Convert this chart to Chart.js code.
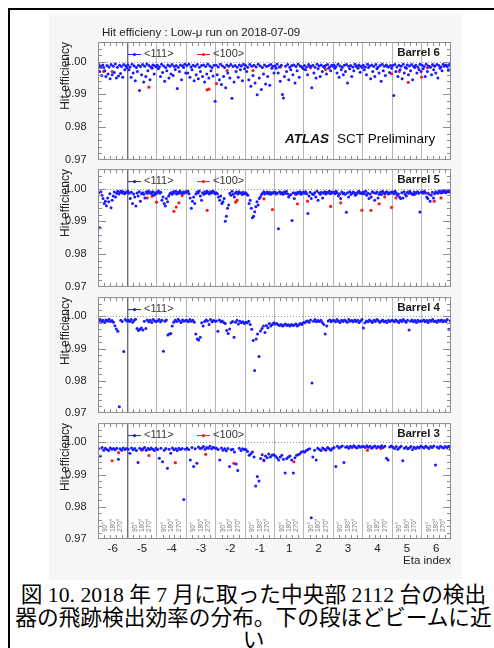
<!DOCTYPE html>
<html lang="ja">
<head>
<meta charset="UTF-8" />
<title>SCT barrel hit efficiency</title>
<script src="https://cdn.jsdelivr.net/npm/chart.js"></script>
<style>
  body { margin: 0; width: 494px; height: 648px; overflow: hidden; position: relative; background: #fff; }
  #frame { position: absolute; left: 8px; top: 8px; width: 520px; height: 700px; border: 2px solid #000; box-sizing: border-box; }
  #figbg { position: absolute; left: 49px; top: 14px; width: 413px; height: 566px; background: #f7f7f7; }
  canvas.panel { position: absolute; left: 45px; }
  #caption { position: absolute; left: 10px; width: 487px; top: 584px; font-family: "Liberation Serif", "Noto Sans CJK JP", serif;
             font-size: 21.7px; line-height: 22.5px; text-align: center; color: #000; white-space: nowrap; }
</style>
</head>
<body>
<div id="frame"></div>
<div id="figbg"></div>
<canvas id="p6" class="panel"></canvas>
<canvas id="p5" class="panel"></canvas>
<canvas id="p4" class="panel"></canvas>
<canvas id="p3" class="panel"></canvas>
<div id="caption">図 10. 2018 年 7 月に取った中央部 2112 台の検出<br>器の飛跡検出効率の分布。下の段ほどビームに近<br>い</div>

<script>
// eta rings, left to right
const etaLabels = ['-6', '-5', '-4', '-3', '-2', '-1', '1', '2', '3', '4', '5', '6'];
const phiLabels = ['90°', '180°', '270°'];
const yMajor = [0.97, 0.98, 0.99, 1.00];

// inefficiency (1 - eff) in units of 1e-4, <111> modules, one array per eta ring, phi order
const barrel6 = [
  [8, 30, 14, 42, 10, 18, 28, 45, 12, 38, 16, 52, 9, 40, 14, 33, 7, 50, 17, 44, 11, 36, 15, 48, 9, 25, 13, 19],
  [10, 25, 16, 48, 8, 35, 13, 58, 18, 30, 11, 88, 15, 40, 9, 62, 14, 45, 7, 28, 12, 55, 17, 20, 10, 38, 13, 16],
  [11, 22, 16, 45, 8, 33, 13, 60, 18, 28, 10, 50, 14, 38, 9, 42, 15, 24, 12, 82, 17, 30, 10, 55, 13, 18, 8, 35],
  [12, 35, 8, 48, 16, 25, 11, 58, 14, 40, 9, 52, 17, 30, 12, 45, 10, 62, 15, 38, 8, 50, 13, 28, 18, 44, 11, 121],
  [11, 40, 16, 55, 8, 70, 13, 45, 18, 80, 10, 35, 14, 50, 9, 112, 15, 62, 12, 30, 17, 48, 10, 25, 13, 58, 8, 22],
  [12, 30, 17, 55, 9, 75, 14, 42, 11, 65, 16, 101, 8, 50, 13, 85, 18, 38, 10, 68, 15, 45, 12, 72, 9, 20, 14, 35],
  [13, 20, 8, 35, 16, 60, 11, 100, 111, 45, 14, 30, 9, 55, 17, 25, 12, 40, 10, 65, 15, 28, 8, 48, 13, 15, 18, 22],
  [12, 25, 16, 40, 9, 15, 14, 80, 11, 35, 17, 50, 8, 22, 13, 45, 10, 30, 15, 18, 12, 38, 9, 20, 16, 28, 11, 14],
  [10, 20, 15, 35, 8, 48, 13, 25, 17, 40, 11, 30, 9, 65, 14, 22, 12, 45, 16, 28, 8, 15, 13, 20, 10, 32, 15, 18],
  [11, 25, 16, 40, 8, 18, 13, 52, 10, 30, 15, 45, 9, 22, 17, 35, 12, 60, 8, 28, 14, 42, 10, 15, 16, 33, 12, 20],
  [12, 103, 9, 30, 16, 45, 11, 25, 14, 52, 8, 35, 17, 20, 10, 40, 13, 28, 9, 55, 15, 18, 11, 35, 16, 24, 8, 30],
  [11, 22, 15, 45, 8, 30, 13, 15, 17, 40, 10, 25, 14, 35, 9, 50, 12, 20, 16, 28, 8, 14, 11, 10, 15, 26, 9, 12]
];
const barrel5 = [
  [12, 119, 9, 20, 30, 45, 38, 52, 28, 40, 15, 58, 35, 22, 10, 25, 14, 8, 16, 11, 7, 13, 9, 15, 12, 10],
  [8, 14, 30, 11, 45, 16, 25, 53, 13, 22, 9, 38, 15, 12, 17, 28, 10, 14, 7, 13, 11, 16, 9, 20, 12, 15],
  [10, 7, 14, 11, 35, 25, 45, 53, 30, 40, 22, 15, 12, 17, 9, 13, 8, 16, 11, 14, 7, 12, 15, 10, 13, 9],
  [11, 8, 15, 28, 60, 38, 25, 45, 16, 10, 13, 7, 22, 35, 12, 17, 9, 14, 8, 12, 16, 10, 13, 7, 11, 15],
  [12, 15, 25, 35, 22, 45, 40, 30, 99, 84, 60, 50, 14, 20, 8, 17, 25, 13, 10, 16, 9, 14, 12, 18, 11, 15],
  [12, 16, 20, 45, 35, 60, 89, 84, 70, 55, 40, 50, 30, 25, 18, 14, 9, 16, 13, 10, 15, 11, 17, 12, 14, 10],
  [11, 16, 13, 122, 9, 15, 12, 17, 10, 14, 8, 15, 25, 20, 18, 97, 12, 30, 13, 16, 11, 14, 9, 17, 12, 10],
  [14, 9, 15, 76, 22, 11, 30, 16, 18, 12, 25, 8, 35, 13, 17, 11, 28, 14, 9, 16, 11, 13, 8, 15, 10, 12],
  [11, 15, 8, 13, 22, 16, 30, 10, 15, 13, 17, 72, 12, 25, 9, 18, 14, 10, 13, 20, 16, 11, 8, 14, 12, 15],
  [10, 15, 8, 20, 13, 30, 16, 25, 9, 12, 35, 14, 10, 28, 17, 11, 18, 8, 13, 15, 11, 9, 16, 12, 14, 10],
  [11, 15, 8, 13, 20, 16, 25, 30, 12, 28, 9, 17, 22, 11, 14, 8, 13, 16, 18, 10, 15, 12, 9, 14, 71, 11],
  [10, 14, 8, 13, 25, 30, 16, 38, 20, 11, 28, 15, 9, 12, 14, 7, 10, 13, 6, 11, 8, 12, 9, 7, 10, 8]
];
const barrel4 = [
  [14, 10, 17, 12, 19, 11, 15, 9, 16, 13, 18, 29, 39, 46, 281, 12, 16, 109, 10, 14],
  [12, 16, 10, 18, 13, 9, 38, 44, 40, 36, 42, 15, 38, 11, 17, 12, 19, 10, 14, 16],
  [14, 10, 17, 12, 108, 15, 11, 58, 55, 53, 30, 18, 12, 16, 9, 14, 19, 11, 15, 13],
  [13, 17, 10, 15, 12, 18, 55, 70, 73, 65, 20, 30, 16, 11, 14, 25, 10, 17, 13, 15],
  [14, 46, 11, 17, 14, 19, 22, 44, 53, 39, 20, 16, 65, 18, 12, 24, 15, 20, 17, 22],
  [18, 20, 15, 25, 40, 75, 168, 70, 55, 125, 45, 38, 30, 50, 28, 35, 22, 30, 25, 20],
  [24, 22, 26, 28, 25, 30, 27, 24, 28, 26, 30, 25, 28, 27, 24, 30, 26, 22, 25, 20],
  [20, 16, 14, 18, 11, 207, 15, 10, 17, 13, 16, 12, 19, 25, 55, 30, 14, 11, 17, 13],
  [13, 17, 10, 15, 19, 12, 16, 11, 14, 18, 10, 15, 13, 17, 11, 16, 12, 19, 14, 10],
  [36, 20, 14, 17, 11, 15, 19, 12, 16, 10, 13, 18, 15, 11, 17, 14, 19, 12, 16, 13],
  [13, 17, 11, 15, 19, 12, 16, 10, 14, 18, 12, 42, 15, 11, 17, 13, 19, 12, 16, 14],
  [14, 11, 17, 13, 19, 12, 15, 10, 16, 14, 18, 12, 15, 11, 17, 13, 16, 10, 40, 14]
];
const barrel3 = [
  [20, 42, 16, 24, 18, 22, 25, 17, 21, 19, 23, 18, 52, 20, 24, 17, 22, 19],
  [21, 34, 17, 23, 19, 25, 62, 18, 22, 20, 16, 24, 19, 22, 17, 21, 25, 18],
  [22, 49, 18, 60, 24, 19, 80, 21, 34, 17, 23, 20, 25, 18, 22, 19, 177, 21],
  [18, 22, 55, 16, 75, 20, 65, 14, 19, 17, 13, 21, 16, 18, 12, 20, 15, 17],
  [18, 22, 55, 17, 24, 20, 26, 19, 75, 23, 21, 30, 67, 87, 18, 25, 20, 22],
  [22, 28, 40, 35, 30, 45, 135, 106, 120, 50, 38, 55, 42, 48, 36, 45, 40, 38],
  [42, 48, 55, 45, 40, 52, 95, 50, 45, 42, 55, 95, 48, 40, 38, 35, 30, 28],
  [30, 25, 22, 20, 234, 45, 24, 55, 18, 22, 25, 17, 21, 23, 16, 20, 24, 19],
  [16, 75, 12, 17, 14, 11, 62, 15, 13, 18, 12, 16, 10, 14, 17, 11, 15, 13],
  [13, 16, 10, 15, 12, 18, 14, 11, 17, 13, 15, 10, 16, 12, 49, 55, 14, 11],
  [15, 19, 13, 21, 16, 12, 57, 18, 14, 20, 17, 13, 22, 15, 19, 14, 17, 12],
  [14, 17, 12, 15, 19, 13, 16, 11, 70, 14, 18, 12, 15, 17, 13, 16, 12, 15]
];

// <100> modules: [eta position (0 = left edge, 12 = right edge), inefficiency x 1e4]
const barrel6Red = [[0.08, 17], [0.19, 30], [0.48, 30], [1.73, 78], [1.87, 11], [3.71, 86], [3.77, 84],
  [4.03, 67], [4.39, 27], [5.27, 27], [6.21, 16], [7.23, 19], [7.74, 24], [8.88, 14], [9.98, 37],
  [10.24, 30], [10.55, 63], [11.0, 47], [11.2, 19], [11.38, 9]];
const barrel5Red = [[1.67, 28], [1.84, 23], [1.99, 41], [2.58, 69], [2.66, 56], [2.75, 43], [2.86, 21],
  [3.71, 66], [3.83, 10], [4.68, 41], [4.73, 35], [5.64, 31], [5.93, 64], [6.72, 18], [6.78, 46],
  [7.12, 38], [7.69, 11], [7.91, 54], [8.25, 43], [8.73, 13], [8.97, 66], [9.28, 66], [9.56, 46],
  [9.75, 25], [9.98, 57], [10.13, 28], [10.75, 18], [11.21, 13], [11.43, 38], [11.66, 28]];
const barrel3Red = [[0.48, 57], [0.70, 32], [1.50, 24], [1.73, 41], [2.63, 63], [3.66, 37], [4.62, 65],
  [5.64, 57], [6.66, 60], [7.74, 24], [9.16, 24], [9.62, 19], [11.98, 22]];

const BLUE = '#1a1aff';
const RED = '#ff1a1a';
const FONT = '"Liberation Sans", Arial, sans-serif';

function ringPoints(rings) {
  const pts = [];
  rings.forEach((vals, s) => vals.forEach((v, j) => pts.push({ x: s + (j + 0.5) / vals.length, y: 1 - v / 1e4 })));
  return pts;
}

const decor = {
  id: 'decor',
  beforeDraw(chart) {
    const { ctx, chartArea: a } = chart;
    ctx.save();
    ctx.fillStyle = '#fff';
    ctx.fillRect(a.left, a.top, a.width, a.height);
    ctx.restore();
  },
  beforeDatasetsDraw(chart) {
    const { ctx, chartArea: a, scales: { y } } = chart;
    const py = Math.round(y.getPixelForValue(1.0)) + 0.5;
    ctx.save();
    ctx.strokeStyle = '#999';
    ctx.setLineDash([1, 2]);
    ctx.beginPath(); ctx.moveTo(a.left, py); ctx.lineTo(a.right, py); ctx.stroke();
    ctx.restore();
  },
  afterDraw(chart, args, o) {
    const { ctx, chartArea: a, scales: { x, y } } = chart;
    ctx.save();
    ctx.strokeStyle = '#8c8c8c';
    ctx.lineWidth = 1;
    ctx.strokeRect(a.left + 0.5, a.top + 0.5, a.width - 1, a.height - 1);
    ctx.beginPath();
    // small ticks inside the frame
    for (let s = 0; s < 12; s++) {
      for (let k = 1; k < 5; k++) {
        const px = Math.round(x.getPixelForValue(s + k / 5)) + 0.5;
        ctx.moveTo(px, a.top); ctx.lineTo(px, a.top + 4);
        ctx.moveTo(px, a.bottom); ctx.lineTo(px, a.bottom - 4);
      }
    }
    for (let i = 1; i < 18; i++) {
      const py = Math.round(y.getPixelForValue(0.97 + i * 0.002)) + 0.5;
      const len = i % 5 === 0 ? 8 : 4;
      ctx.moveTo(a.left, py); ctx.lineTo(a.left + len, py);
      ctx.moveTo(a.right, py); ctx.lineTo(a.right - len, py);
    }
    ctx.stroke();

    // legend
    ctx.font = '11px ' + FONT;
    ctx.textBaseline = 'middle';
    const ly = a.top + 12;
    o.legend.forEach(([label, color, dx]) => {
      const lx = a.left + dx;
      ctx.strokeStyle = color;
      ctx.beginPath(); ctx.moveTo(lx, ly + 0.5); ctx.lineTo(lx + 13, ly + 0.5); ctx.stroke();
      ctx.fillStyle = color;
      ctx.beginPath(); ctx.arc(lx + 6.5, ly + 0.5, 1.6, 0, Math.PI * 2); ctx.fill();
      ctx.fillStyle = '#333';
      ctx.fillText(label, lx + 16, ly);
    });

    ctx.fillStyle = '#1a1a1a';
    ctx.font = 'bold 11.5px ' + FONT;
    ctx.textAlign = 'right';
    ctx.fillText(o.barrel, a.right - 11, a.top + 11);
    ctx.textAlign = 'left';

    if (o.title) {
      ctx.font = '11.5px ' + FONT;
      ctx.fillStyle = '#222';
      ctx.fillText(o.title, a.left + 4, a.top - 9);
      ctx.textBaseline = 'alphabetic';
      ctx.font = 'italic bold 13.5px ' + FONT;
      ctx.fillStyle = '#111';
      ctx.fillText('ATLAS', a.left + 187, a.top + 101);
      ctx.font = '13.5px ' + FONT;
      ctx.fillText('SCT Preliminary', a.left + 239, a.top + 101);
    }

    if (o.phi) {
      ctx.fillStyle = '#777';
      ctx.font = '6.5px ' + FONT;
      ctx.textBaseline = 'middle';
      ctx.textAlign = 'left';
      for (let s = 0; s < 12; s++) {
        phiLabels.forEach((t, k) => {
          ctx.save();
          ctx.translate(x.getPixelForValue(s + (k + 1) / 4), a.bottom - 7);
          ctx.rotate(-Math.PI / 2);
          ctx.fillText(t, 0, 0);
          ctx.restore();
        });
      }
    }
    ctx.restore();
  }
};

const panels = [
  { id: 'p6', top: 42, h: 118, rings: barrel6, red: barrel6Red, barrel: 'Barrel 6',
    title: 'Hit efficieny : Low-\u03bc run on 2018-07-09' },
  { id: 'p5', top: 169, h: 118, rings: barrel5, red: barrel5Red, barrel: 'Barrel 5' },
  { id: 'p4', top: 297, h: 116, rings: barrel4, red: null, barrel: 'Barrel 4' },
  { id: 'p3', top: 423, h: 116, rings: barrel3, red: barrel3Red, barrel: 'Barrel 3', bottom: true }
];

panels.forEach(p => {
  const padTop = p.title ? 24 : 10;
  const axisH = p.bottom ? 30 : 0;
  const padBottom = p.bottom ? 0 : 10;
  const cv = document.getElementById(p.id);
  cv.width = 420;
  cv.height = padTop + p.h + axisH + padBottom;
  cv.style.top = (p.top - padTop) + 'px';

  const datasets = [{
    label: '<111>', data: ringPoints(p.rings), backgroundColor: BLUE, borderWidth: 0,
    pointRadius: 1.5, pointHoverRadius: 1.5
  }];
  const legend = [['<111>', BLUE, 30]];
  if (p.red) {
    datasets.push({
      label: '<100>', data: p.red.map(([x, v]) => ({ x, y: 1 - v / 1e4 })), backgroundColor: RED,
      borderWidth: 0, pointRadius: 1.6, pointHoverRadius: 1.6
    });
    legend.push(['<100>', RED, 99]);
  }

  new Chart(cv.getContext('2d'), {
    type: 'scatter',
    data: { datasets },
    options: {
      responsive: false,
      animation: false,
      events: [],
      layout: { padding: { top: padTop, right: 14, bottom: padBottom, left: 0 } },
      plugins: {
        legend: { display: false },
        tooltip: { enabled: false },
        decor: { legend, barrel: p.barrel, title: p.title, phi: !!p.bottom }
      },
      scales: {
        x: {
          type: 'linear', min: 0, max: 12,
          afterBuildTicks: s => {
            const t = [];
            for (let i = 0; i <= 12; i++) {
              t.push({ value: i });
              if (i < 12) t.push({ value: i + 0.5 });
            }
            s.ticks = t;
          },
          afterFit: s => { s.height = axisH; },
          ticks: {
            display: !!p.bottom, autoSkip: false, maxRotation: 0, padding: 3,
            color: '#222', font: { family: FONT, size: 11.5 },
            callback: v => (v % 1 === 0.5 ? etaLabels[Math.floor(v)] : '')
          },
          grid: {
            drawTicks: false,
            color: c => {
              const v = c.tick && c.tick.value;
              if (v === 1) return '#707070';
              if (Number.isInteger(v) && v > 0 && v < 12) return '#b4b4b4';
              return 'rgba(0,0,0,0)';
            },
            lineWidth: c => (c.tick && c.tick.value === 1 ? 1.4 : 1)
          },
          border: { display: false },
          title: {
            display: !!p.bottom, text: 'Eta index', align: 'end', color: '#222',
            font: { family: FONT, size: 11.5 }, padding: { top: 0, bottom: 1 }
          }
        },
        y: {
          min: 0.97, max: 1.006,
          afterBuildTicks: s => { s.ticks = yMajor.map(v => ({ value: v })); },
          afterFit: s => { s.width = 53; },
          ticks: { callback: v => v.toFixed(2), color: '#222', padding: 3.5, font: { family: FONT, size: 11 } },
          grid: { display: false },
          border: { display: false },
          title: {
            display: true, text: 'Hit efficiency', align: 'end', color: '#222',
            font: { family: FONT, size: 12 }, padding: { top: 13, bottom: 0 }
          }
        }
      }
    },
    plugins: [decor]
  });
});
</script>
</body>
</html>
